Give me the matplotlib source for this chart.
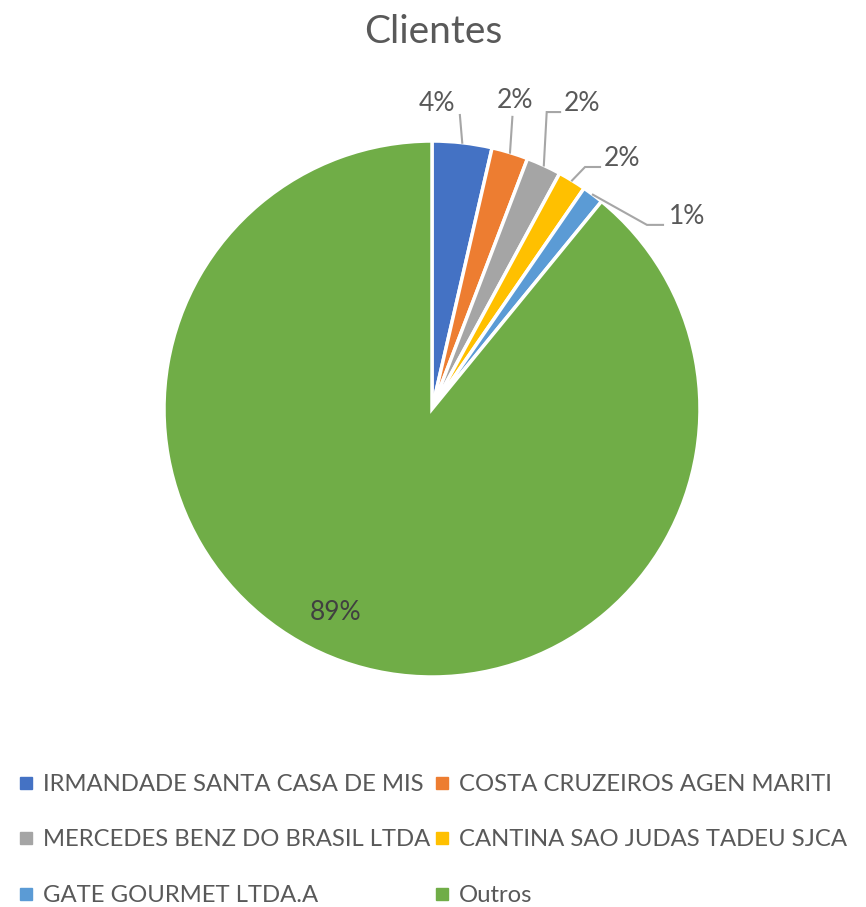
import numpy as np
import matplotlib

matplotlib.use('Agg')
import matplotlib.pyplot as plt
from matplotlib.lines import Line2D

plt.rcParams['font.family'] = ['Lato', 'DejaVu Sans']

# data (percent of total)
clientes = ['IRMANDADE SANTA CASA DE MIS', 'COSTA CRUZEIROS AGEN MARITI',
            'MERCEDES BENZ DO BRASIL LTDA', 'CANTINA SAO JUDAS TADEU SJCA',
            'GATE GOURMET LTDA.A', 'Outros']
valores = [3.6, 2.2, 2.1, 1.7, 1.3, 89.1]
rotulos = ['4%', '2%', '2%', '2%', '1%', '89%']
cores = ['#4472C4', '#ED7D31', '#A5A5A5', '#FFC000', '#5B9BD5', '#70AD47']

# label placement (data coords of the unit pie)
pos_rotulo = [(0.02, 1.14), (0.31, 1.15), (0.56, 1.14), (0.71, 0.935), (0.95, 0.72), (-0.36, -0.76)]
# leader line: elbow point and end point after the anchor on the wedge (None = no leader)
guia = [[(0.104, 1.097)],
        [(0.30, 1.09)],
        [(0.428, 1.108), (0.478, 1.108)],
        [(0.571, 0.903), (0.627, 0.903)],
        [(0.802, 0.687), (0.862, 0.687)],
        None]

W, H = 866, 907
fig = plt.figure(figsize=(W / 100, H / 100), dpi=100)
cx, cy, r = 432, 409, 268
ax = fig.add_axes([(cx - r) / W, (H - cy - r) / H, 2 * r / W, 2 * r / H])

wedges, _ = ax.pie(valores, colors=cores, startangle=90, counterclock=False,
                   radius=1, wedgeprops=dict(edgecolor='white', linewidth=2.5))
ax.set_xlim(-1, 1)
ax.set_ylim(-1, 1)
ax.set_aspect('equal')
ax.axis('off')

txt_cor = '#595959'
for w, lab, p, g in zip(wedges, rotulos, pos_rotulo, guia):
    if g is None:
        ax.text(p[0], p[1], lab, ha='center', va='center', fontsize=19, color='#404040')
        continue
    ang = np.deg2rad((w.theta1 + w.theta2) / 2)
    pts = [(np.cos(ang), np.sin(ang))] + g
    ax.plot([q[0] for q in pts], [q[1] for q in pts], color='#A6A6A6', lw=1.5,
            clip_on=False, solid_joinstyle='miter')
    ax.text(p[0], p[1], lab, ha='center', va='center', fontsize=19, color=txt_cor)

fig.text(0.5, 1 - 32 / H, 'Clientes', ha='center', va='center', fontsize=28, color=txt_cor)

handles = [Line2D([], [], marker='s', linestyle='none', markersize=8,
                  markerfacecolor=c, markeredgecolor=c) for c in cores]
# matplotlib fills legend column-wise; reorder so it reads row-wise
ordem = [0, 2, 4, 1, 3, 5]
leg = fig.legend([handles[i] for i in ordem], [clientes[i] for i in ordem],
                 loc='center', bbox_to_anchor=(0.5, 1 - 840 / H), ncol=2,
                 frameon=False, fontsize=17.2, handlelength=0.6, handletextpad=0.4,
                 columnspacing=0.2, labelspacing=1.45)
for t in leg.get_texts():
    t.set_color(txt_cor)

fig.savefig('out.png', dpi=100)
